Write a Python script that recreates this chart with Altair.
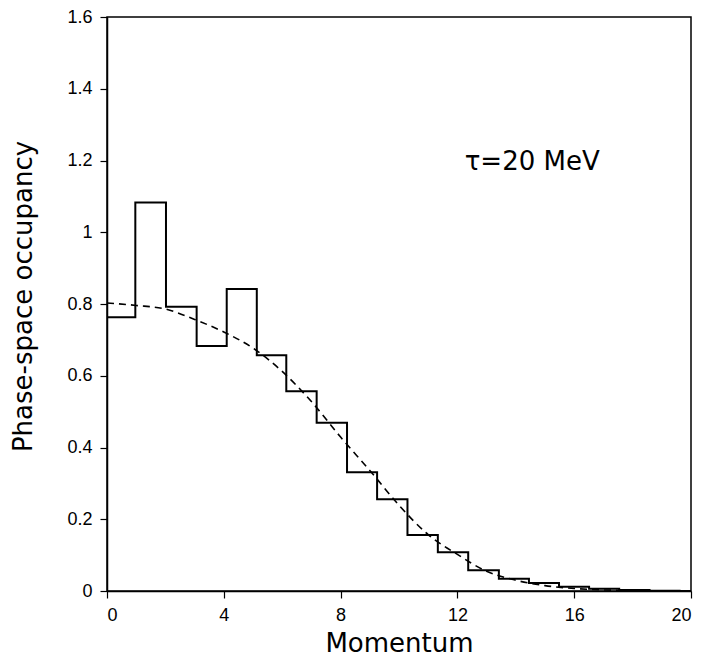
import altair as alt
import pandas as pd

# Histogram (step) data: left bin edges and occupancy values
bin_edges = [0.0, 0.97, 2.02, 3.07, 4.1, 5.13, 6.14, 7.18, 8.22, 9.25, 10.29,
             11.33, 12.37, 13.42, 14.45, 15.48, 16.51, 17.54, 18.58, 19.61, 20.0]
occupancy = [0.763, 1.083, 0.792, 0.683, 0.842, 0.657, 0.557, 0.469, 0.331, 0.256,
             0.156, 0.108, 0.058, 0.034, 0.022, 0.012, 0.006, 0.003, 0.001, 0.0, 0.0]

# Dashed reference curve
curve_x = [0, 1, 2, 3, 4, 5, 6, 7, 8, 9, 10, 11, 12, 13, 14, 15, 16, 17, 18]
curve_y = [0.803, 0.796, 0.786, 0.757, 0.722, 0.677, 0.612, 0.528, 0.429, 0.336,
           0.239, 0.157, 0.102, 0.055, 0.030, 0.015, 0.007, 0.003, 0.001]

x_ticks = [0, 4, 8, 12, 16, 20]
y_ticks = [0, 0.2, 0.4, 0.6, 0.8, 1.0, 1.2, 1.4, 1.6]

hist_df = pd.DataFrame({"p": bin_edges, "f": occupancy})
curve_df = pd.DataFrame({"p": curve_x, "f": curve_y})
label_df = pd.DataFrame({"p": [12.25], "f": [1.196], "t": ["\u03c4=20 MeV"]})

FONT = "Liberation Sans"
TFONT = "DejaVu Sans"

xscale = alt.Scale(domain=[0, 20], nice=False, zero=False)
yscale = alt.Scale(domain=[0, 1.6], nice=False)

xaxis = alt.Axis(values=x_ticks, title="Momentum", grid=False, format="~g",
                 labelFontSize=18, titleFontSize=26, titleFontWeight="normal",
                 labelFont=FONT, titleFont=TFONT, labelColor="black", titleColor="black",
                 tickColor="black", domainColor="black", tickSize=7, labelPadding=8,
                 titlePadding=6, domainWidth=1.5, tickWidth=1.2)
yaxis = alt.Axis(values=y_ticks, title="Phase-space occupancy", grid=False, format="~g",
                 labelFontSize=18, titleFontSize=26, titleFontWeight="normal",
                 labelFont=FONT, titleFont=TFONT, labelColor="black", titleColor="black",
                 tickColor="black", domainColor="black", tickSize=7, labelPadding=8,
                 titlePadding=30, titleY=279, domainWidth=1.5, tickWidth=1.2)

hist = alt.Chart(hist_df).mark_line(interpolate="step-after", color="black",
                                    strokeWidth=2).encode(
    x=alt.X("p:Q", scale=xscale, axis=xaxis),
    y=alt.Y("f:Q", scale=yscale, axis=yaxis),
)

curve = alt.Chart(curve_df).mark_line(interpolate="monotone", color="black",
                                      strokeWidth=1.6, strokeDash=[7, 5]).encode(
    x=alt.X("p:Q", scale=xscale),
    y=alt.Y("f:Q", scale=yscale),
)

label = alt.Chart(label_df).mark_text(align="left", baseline="middle", fontSize=26,
                                      font=TFONT, color="black").encode(
    x=alt.X("p:Q", scale=xscale),
    y=alt.Y("f:Q", scale=yscale),
    text="t:N",
)

chart = alt.layer(hist, curve, label).properties(
    width=584, height=574,
    autosize=alt.AutoSizeParams(type="none"),
    padding={"left": 99, "top": 9, "right": 7, "bottom": 72},
).configure_view(stroke="black", strokeWidth=1.5)

chart.save("out.html", embed_options={"renderer": "svg", "actions": False})
